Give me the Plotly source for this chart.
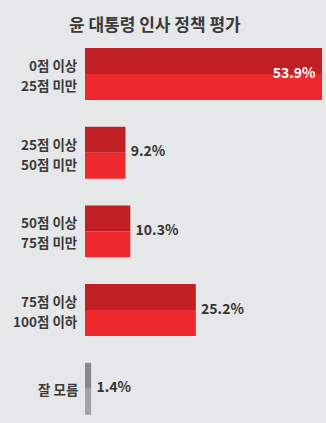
import plotly.graph_objects as go

categories = ["0점 이상<br>25점 미만", "25점 이상<br>50점 미만", "50점 이상<br>75점 미만",
              "75점 이상<br>100점 이하", "잘 모름"]
values = [53.9, 9.2, 10.3, 25.2, 1.4]
labels = ["53.9%", "9.2%", "10.3%", "25.2%", "1.4%"]
top_colors = ["#c11f24", "#c11f24", "#c11f24", "#c11f24", "#88898b"]
bottom_colors = ["#ee292d", "#ee292d", "#ee292d", "#ee292d", "#a2a3a5"]

pos = list(range(len(categories)))
FONT = "Noto Sans CJK KR"

fig = go.Figure()
fig.add_trace(go.Bar(x=values, y=pos, orientation="h", offset=-0.33, width=0.33,
                     marker=dict(color=top_colors, line=dict(width=0)), hoverinfo="skip"))
fig.add_trace(go.Bar(x=values, y=pos, orientation="h", offset=0, width=0.33,
                     marker=dict(color=bottom_colors, line=dict(width=0)), hoverinfo="skip"))

inside = [v > 40 for v in values]
fig.add_trace(go.Scatter(
    x=[v - 1.5 if ins else v + 1.2 for v, ins in zip(values, inside)],
    y=pos, mode="text", text=labels,
    textposition=["middle left" if ins else "middle right" for ins in inside],
    textfont=dict(family=FONT, size=14, color=["white" if ins else "#333333" for ins in inside],
                  weight="bold"),
    hoverinfo="skip"))

# category labels, one annotation per line for 20px line spacing
annotations = []
for p, cat in zip(pos, categories):
    lines = cat.split("<br>")
    n = len(lines)
    for i, line in enumerate(lines):
        shift = (i - (n - 1) / 2) * 20
        annotations.append(dict(
            x=0, y=p, xref="x", yref="y", text=line, showarrow=False,
            xanchor="right", yanchor="middle", xshift=-5, yshift=-shift + (0 if n == 1 else -1),
            font=dict(family=FONT, size=13.5, color="#3a3a3a", weight="bold")))

fig.update_layout(
    width=326, height=423,
    margin=dict(l=85, r=0, t=35, b=0),
    paper_bgcolor="#e6e7e9", plot_bgcolor="#e6e7e9",
    barmode="overlay", showlegend=False,
    title=dict(text="<b>윤 대통령 인사 정책 평가</b>", x=0.475, xref="container", xanchor="center",
               y=1 - 25 / 423, yref="container", yanchor="middle",
               font=dict(family=FONT, size=17, color="#3a3a3a")),
    xaxis=dict(range=[0, 54.8], visible=False, fixedrange=True),
    yaxis=dict(range=[4.435, -0.496], tickmode="array", tickvals=pos,
               showticklabels=False, showgrid=False, zeroline=False, showline=False),
    annotations=annotations,
)

fig.write_html("out.html")
